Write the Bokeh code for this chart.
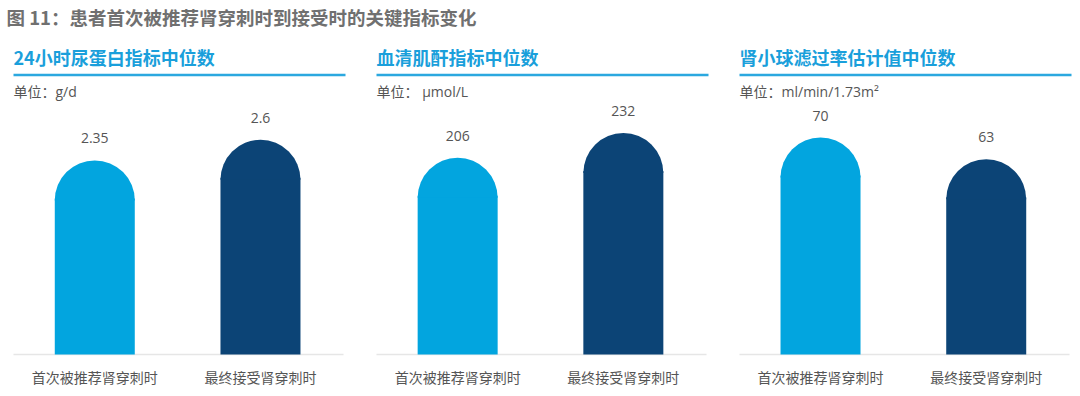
import math
from bokeh.plotting import figure
from bokeh.models import ColumnDataSource, FactorRange, Range1d, Label, BoxAnnotation
from bokeh.core.properties import value
from bokeh.embed import file_html
from bokeh.resources import INLINE

# ---------------- data ----------------
main_title = "图 11：患者首次被推荐肾穿刺时到接受时的关键指标变化"
panel_titles = ["24小时尿蛋白指标中位数", "血清肌酐指标中位数", "肾小球滤过率估计值中位数"]
unit_labels = ["单位：g/d", "单位： μmol/L", "单位：ml/min/1.73m²"]
categories = ["首次被推荐肾穿刺时", "最终接受肾穿刺时"]
first_values = [2.35, 206, 70]
final_values = [2.6, 232, 63]
first_texts = ["2.35", "206", "70"]
final_texts = ["2.6", "232", "63"]
bar_colors = ["#02a5df", "#0c4476"]

# ---------------- layout constants ----------------
W, H = 1080, 396
BASE = 42                      # baseline, px from bottom
axis_tops = [4.286, 370.7, 114.2]
panel_left = [13, 376, 739]
panel_width = 332
GP, RP = 0.19, 0.069
UNIT_PX = W / (6 + 2 * GP + 2 * RP)
BAR_W = 80
R = BAR_W / 2
CJK = "Noto Sans CJK SC"
MIX = "'Open Sans', 'Noto Sans CJK SC'"
NUM = "Open Sans"

factors = [(t, c) for t in panel_titles for c in categories]
x_range = FactorRange(*factors, group_padding=GP, factor_padding=0.0,
                      range_padding=RP, range_padding_units="absolute")

p = figure(width=W, height=H, x_range=x_range, y_range=Range1d(0, H),
           output_backend="svg", toolbar_location=None,
           x_axis_location=None, y_axis_location=None, min_border=0,
           background_fill_color="white", border_fill_color="white",
           outline_line_color=None)
p.grid.visible = False

extra_y = {}
for k in range(3):
    top = axis_tops[k]
    ppu = (H - BASE) / top
    extra_y[f"v{k}"] = Range1d(-BASE / ppu, top)
p.extra_y_ranges = extra_y


def screen_label(x, y, text, size, color, bold=False, font=CJK):
    p.add_layout(Label(x=x, y=y, x_units="screen", y_units="screen", text=text,
                       text_font=font, text_font_size=size,
                       text_font_style="bold" if bold else "normal",
                       text_color=color, text_baseline="middle", text_align="left"))


def screen_box(left, right, bottom, top, color):
    p.add_layout(BoxAnnotation(left=left, right=right, bottom=bottom, top=top,
                               left_units="screen", right_units="screen",
                               bottom_units="screen", top_units="screen",
                               fill_color=color, fill_alpha=1.0,
                               line_color=None, level="underlay"))


# main title
screen_label(6, H - 16, main_title, "18.5px", "#707070", bold=True)

for k in range(3):
    name = f"v{k}"
    top = axis_tops[k]
    ppu = (H - BASE) / top
    r_v = R / ppu
    vals = [first_values[k], final_values[k]]
    src = ColumnDataSource(dict(
        x=[(panel_titles[k], c) for c in categories],
        value=vals,
        rect_top=[v - r_v + 2.0 / ppu for v in vals],
        arc_y=[v - r_v for v in vals],
        label=[first_texts[k], final_texts[k]],
        cat=categories,
        color=bar_colors,
    ))
    x0 = panel_left[k]
    screen_label(x0, H - 56, panel_titles[k], "18px", "#1a9fdb", bold=True)
    screen_box(x0, x0 + panel_width, H - 75.75, H - 73.25, "#2ba8df")
    screen_label(x0, H - 91, unit_labels[k], "14px", "#555555", font=MIX)
    screen_box(x0, x0 + panel_width - 2, BASE - 0.75, BASE + 0.75, "#e6e6e6")

    # bars with rounded tops
    p.vbar(x="x", bottom=0, top="rect_top", width=BAR_W / UNIT_PX,
           fill_color="color", line_color=None, source=src, y_range_name=name)
    p.wedge(x="x", y="arc_y", radius=R, radius_units="screen",
            start_angle=0, end_angle=math.pi, direction="anticlock",
            fill_color="color", line_color=None, source=src, y_range_name=name)
    # value labels
    p.text(x="x", y="value", text="label", source=src, y_range_name=name,
           y_offset=-22, text_font=value(NUM), text_font_size="14px",
           text_color="#555555", text_align="center", text_baseline="middle")
    # category labels
    p.text(x="x", y=0, text="cat", source=src, y_range_name=name,
           y_offset=22, text_font=value(CJK), text_font_size="14px",
           text_color="#555555", text_align="center", text_baseline="middle")

open("out.html", "w").write(file_html(p, INLINE))
